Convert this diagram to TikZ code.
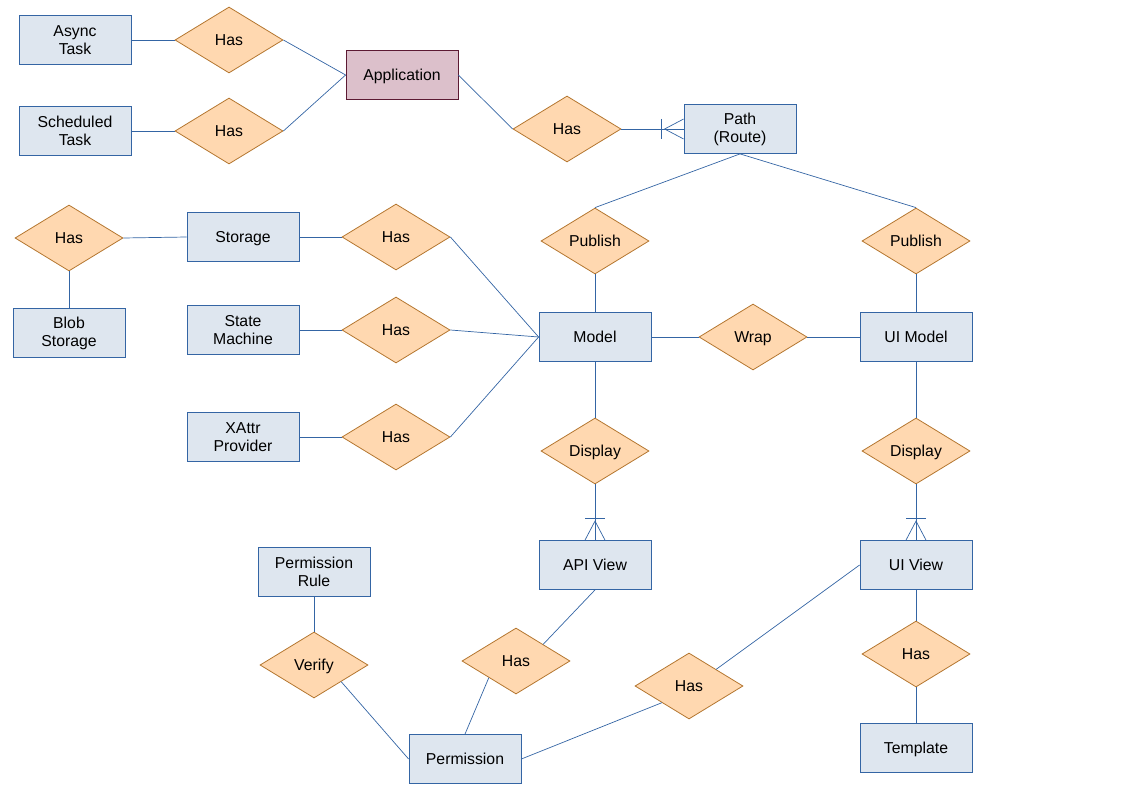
\documentclass[tikz,border=0pt]{standalone}
\usepackage{fontspec}
\setmainfont{Liberation Sans}
\usetikzlibrary{shapes.geometric,calc}
\definecolor{boxfill}{HTML}{DEE6EF}
\definecolor{boxline}{HTML}{3465A4}
\definecolor{appfill}{HTML}{DCC0CB}
\definecolor{appline}{HTML}{5C1A33}
\definecolor{relfill}{HTML}{FFD8B0}
\definecolor{relline}{HTML}{B4762F}
\definecolor{linec}{HTML}{3465A4}
\begin{document}
\begin{tikzpicture}[x=1pt,y=-1pt,
  entity/.style={rectangle,draw=boxline,fill=boxfill,minimum width=112pt,minimum height=49pt,inner sep=0pt,align=center,font=\fontsize{15.8}{18}\selectfont,line width=0.8pt},
  one/.style={text depth=0pt},
  appbox/.style={entity,one,draw=appline,fill=appfill},
  rel/.style={diamond,draw=relline,fill=relfill,minimum width=108pt,minimum height=66pt,inner sep=0pt,text depth=0pt,font=\fontsize{15.8}{18}\selectfont,line width=0.8pt},
  conn/.style={draw=linec,line width=0.7pt}]
\useasboundingbox (0,0) rectangle (1123,794);
% entities
\node[entity] (async) at (75,40) {Async\\Task};
\node[entity] (sched) at (75,131) {Scheduled\\Task};
\node[appbox] (app) at (402,75) {Application};
\node[entity] (path) at (740,129) {Path\\(Route)};
\node[entity,one] (storage) at (243,237) {Storage};
\node[entity] (blob) at (69,333) {Blob\\Storage};
\node[entity] (state) at (243,330) {State\\Machine};
\node[entity] (xattr) at (243,437) {XAttr\\Provider};
\node[entity,one] (model) at (595,337) {Model};
\node[entity,one] (uimodel) at (916,337) {UI Model};
\node[entity,one] (apiview) at (595,565) {API View};
\node[entity,one] (uiview) at (916,565) {UI View};
\node[entity] (prule) at (314,572) {Permission\\Rule};
\node[entity,one] (perm) at (465,759) {Permission};
\node[entity,one] (tmpl) at (916,748) {Template};
% relations
\node[rel] (hasA) at (229,40) {Has};
\node[rel] (hasS) at (229,131) {Has};
\node[rel] (hasP) at (567,129) {Has};
\node[rel] (hasB) at (69,238) {Has};
\node[rel] (hasSt) at (396,237) {Has};
\node[rel] (hasSm) at (396,330) {Has};
\node[rel] (hasX) at (396,437) {Has};
\node[rel] (pubL) at (595,241) {Publish};
\node[rel] (pubR) at (916,241) {Publish};
\node[rel] (wrap) at (753,337) {Wrap};
\node[rel] (dispL) at (595,451) {Display};
\node[rel] (dispR) at (916,451) {Display};
\node[rel] (verify) at (314,665) {Verify};
\node[rel] (hasAV) at (516,661) {Has};
\node[rel] (hasUV) at (689,686) {Has};
\node[rel] (hasT) at (916,654) {Has};
% edge-midpoint coordinates
\coordinate (verifySE) at ($(verify.south)!0.5!(verify.east)$);
\coordinate (hasAVNE) at ($(hasAV.north)!0.5!(hasAV.east)$);
\coordinate (hasAVSW) at ($(hasAV.south)!0.5!(hasAV.west)$);
\coordinate (hasUVNE) at ($(hasUV.north)!0.5!(hasUV.east)$);
\coordinate (hasUVSW) at ($(hasUV.south)!0.5!(hasUV.west)$);
% connectors
\draw[conn] (async.east) -- (hasA.west);
\draw[conn] (hasA.east) -- (app.west);
\draw[conn] (sched.east) -- (hasS.west);
\draw[conn] (hasS.east) -- (app.west);
\draw[conn] (app.east) -- (hasP.west);
\draw[conn] (hasP.east) -- (path.west);
\draw[conn] (path.south) -- (pubL.north);
\draw[conn] (path.south) -- (pubR.north);
\draw[conn] (pubL.south) -- (model.north);
\draw[conn] (pubR.south) -- (uimodel.north);
\draw[conn] (model.east) -- (wrap.west);
\draw[conn] (wrap.east) -- (uimodel.west);
\draw[conn] (model.south) -- (dispL.north);
\draw[conn] (dispL.south) -- (apiview.north);
\draw[conn] (uimodel.south) -- (dispR.north);
\draw[conn] (dispR.south) -- (uiview.north);
\draw[conn] (hasB.east) -- (storage.west);
\draw[conn] (hasB.south) -- (blob.north);
\draw[conn] (storage.east) -- (hasSt.west);
\draw[conn] (hasSt.east) -- (model.west);
\draw[conn] (state.east) -- (hasSm.west);
\draw[conn] (hasSm.east) -- (model.west);
\draw[conn] (xattr.east) -- (hasX.west);
\draw[conn] (hasX.east) -- (model.west);
\draw[conn] (prule.south) -- (verify.north);
\draw[conn] (verifySE) -- (perm.west);
\draw[conn] (apiview.south) -- (hasAVNE);
\draw[conn] (hasAVSW) -- (perm.north);
\draw[conn] (uiview.west) -- (hasUVNE);
\draw[conn] (hasUVSW) -- (perm.east);
\draw[conn] (uiview.south) -- (hasT.north);
\draw[conn] (hasT.south) -- (tmpl.north);
% crow's feet
\draw[conn] ($(path.west)+(-22,-10)$) -- ($(path.west)+(-22,10)$);
\draw[conn] ($(path.west)+(0,-10)$) -- ($(path.west)+(-19,0)$) -- ($(path.west)+(0,10)$);
\draw[conn] ($(apiview.north)+(-10,-22)$) -- ($(apiview.north)+(10,-22)$);
\draw[conn] ($(apiview.north)+(-10,0)$) -- ($(apiview.north)+(0,-19)$) -- ($(apiview.north)+(10,0)$);
\draw[conn] ($(uiview.north)+(-10,-22)$) -- ($(uiview.north)+(10,-22)$);
\draw[conn] ($(uiview.north)+(-10,0)$) -- ($(uiview.north)+(0,-19)$) -- ($(uiview.north)+(10,0)$);
\end{tikzpicture}
\end{document}
